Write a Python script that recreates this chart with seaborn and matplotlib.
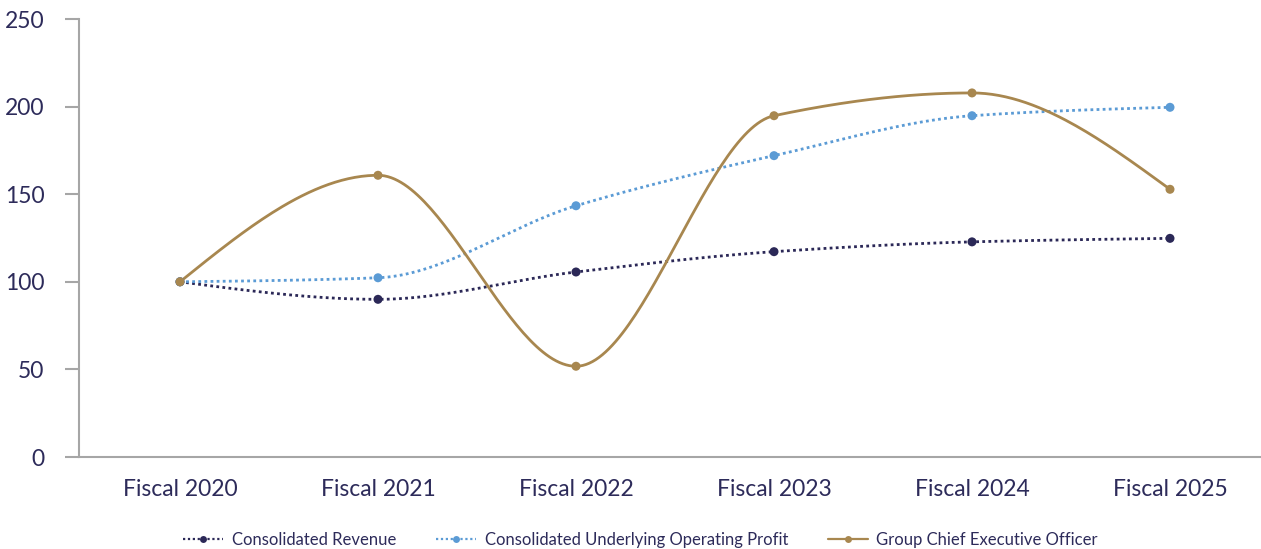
import numpy as np
import matplotlib
matplotlib.use("Agg")
import matplotlib.pyplot as plt
from matplotlib.lines import Line2D
import pandas as pd
import seaborn as sns

# Indexed performance, Fiscal 2020 = 100
years = ["Fiscal 2020", "Fiscal 2021", "Fiscal 2022", "Fiscal 2023", "Fiscal 2024", "Fiscal 2025"]
revenue = [100, 90, 105.6, 117.2, 122.8, 124.8]
profit = [100, 102.3, 143.4, 172.0, 194.8, 199.6]
ceo = [100, 160.8, 51.8, 194.8, 207.8, 152.8]
y_ticks = [0, 50, 100, 150, 200, 250]

series_names = ["Consolidated Revenue", "Consolidated Underlying Operating Profit",
                "Group Chief Executive Officer"]
colors = ["#2b2857", "#5b9bd5", "#a8874f"]
styles = [(0, (1, 1.2)), (0, (1, 1.2)), "-"]
text_color = "#2d2b5a"
axis_color = "#a6a6a6"


def monotone_curve(xs, ys, n=60):
    """Monotone cubic (Fritsch-Carlson) smoothing between category points."""
    xs = np.asarray(xs, float)
    ys = np.asarray(ys, float)
    h = np.diff(xs)
    d = np.diff(ys) / h
    m = np.zeros_like(ys)
    for i in range(1, len(ys) - 1):
        if d[i - 1] * d[i] <= 0:
            m[i] = 0.0
        else:
            w1 = 2 * h[i] + h[i - 1]
            w2 = h[i] + 2 * h[i - 1]
            m[i] = (w1 + w2) / (w1 / d[i - 1] + w2 / d[i])
    m[0] = (3 * d[0] - m[1]) / 2
    m[-1] = (3 * d[-1] - m[-2]) / 2
    if m[0] * d[0] <= 0:
        m[0] = 0
    if m[-1] * d[-1] <= 0:
        m[-1] = 0
    out_x, out_y = [], []
    for i in range(len(ys) - 1):
        t = np.linspace(0, 1, n, endpoint=(i == len(ys) - 2))
        h00 = 2 * t**3 - 3 * t**2 + 1
        h10 = t**3 - 2 * t**2 + t
        h01 = -2 * t**3 + 3 * t**2
        h11 = t**3 - t**2
        out_x.append(xs[i] + t * h[i])
        out_y.append(h00 * ys[i] + h10 * h[i] * m[i] + h01 * ys[i + 1] + h11 * h[i] * m[i + 1])
    return np.concatenate(out_x), np.concatenate(out_y)


sns.set_style("white")
plt.rcParams["font.family"] = ["Lato", "DejaVu Sans"]

fig = plt.figure(figsize=(12.61, 5.49), dpi=100)
ax = fig.add_axes([79 / 1261, 1 - 457 / 549, 1 - 79 / 1261, 438 / 549])

xpos = np.arange(len(years))
points = pd.DataFrame({
    "x": np.tile(xpos, 3),
    "value": revenue + profit + ceo,
    "series": np.repeat(series_names, len(years)),
})

for name, vals, col, ls in zip(series_names, [revenue, profit, ceo], colors, styles):
    cx, cy = monotone_curve(xpos, vals)
    sns.lineplot(x=cx, y=cy, ax=ax, color=col, linestyle=ls, linewidth=2.0,
                 sort=False, estimator=None, legend=False)

sns.scatterplot(data=points, x="x", y="value", hue="series", hue_order=series_names,
                palette=colors, s=42, linewidth=0, ax=ax, legend=False, zorder=5)

ax.set_xlim(-101 / 198, 5 + 91 / 198)
ax.set_ylim(0, 250)
ax.set_xticks(xpos)
ax.set_xticklabels(years)
ax.set_yticks(y_ticks)
ax.set_xlabel("")
ax.set_ylabel("")

for side in ["top", "right"]:
    ax.spines[side].set_visible(False)
for side in ["left", "bottom"]:
    ax.spines[side].set_color(axis_color)
    ax.spines[side].set_linewidth(1.5)

ax.tick_params(axis="y", left=True, length=10, width=1.5, color=axis_color,
               labelsize=16.5, labelcolor=text_color, pad=15)
ax.tick_params(axis="x", bottom=False, labelsize=16.5, labelcolor=text_color, pad=12)

handles = [Line2D([0], [0], color=c, linestyle=ls, linewidth=1.6, marker="o",
                  markersize=5, markeredgewidth=0)
           for c, ls in zip(colors, styles)]
fig.legend(handles, series_names, loc="center", bbox_to_anchor=(0.508, 0.017),
           ncol=3, frameon=False, fontsize=12, labelcolor=text_color,
           handlelength=2.4, handletextpad=0.5, columnspacing=2.4,
           borderpad=0, borderaxespad=0)

fig.savefig("out.png", dpi=100)
